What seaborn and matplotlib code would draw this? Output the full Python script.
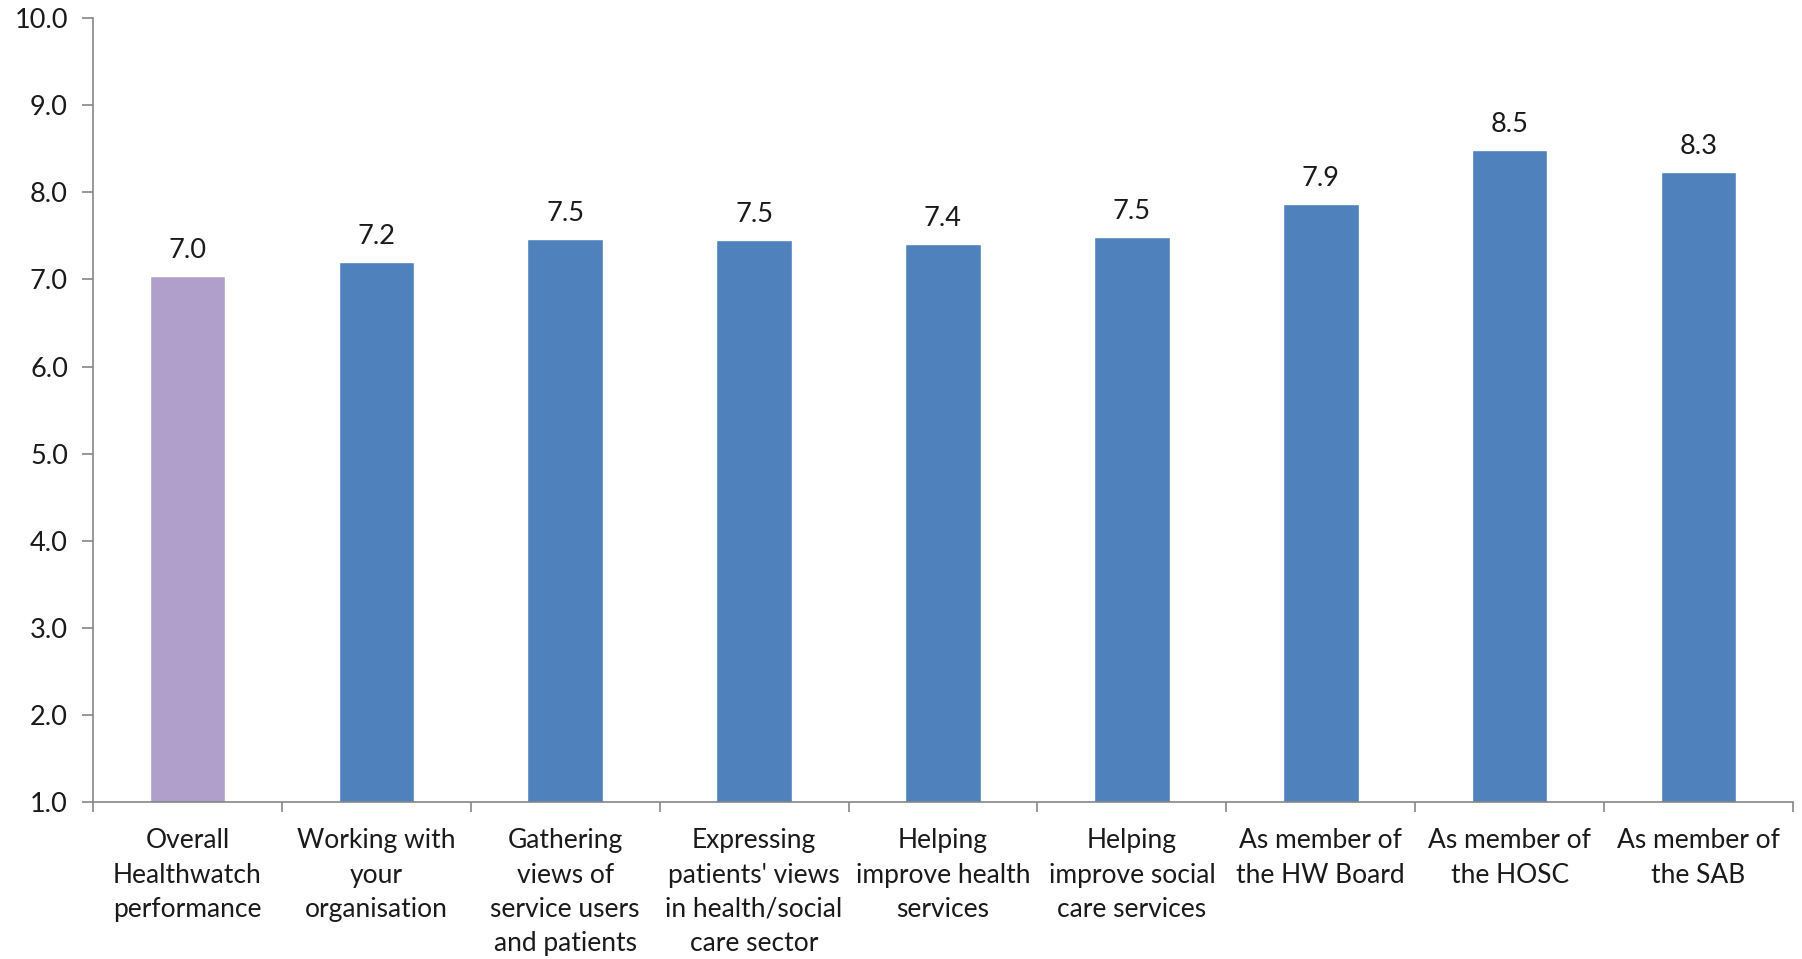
import numpy as np
import pandas as pd
import seaborn as sns
import matplotlib.pyplot as plt
from matplotlib.ticker import FixedLocator

# chart data
CATEGORIES = [
    "Overall\nHealthwatch\nperformance",
    "Working with\nyour\norganisation",
    "Gathering\nviews of\nservice users\nand patients",
    "Expressing\npatients' views\nin health/social\ncare sector",
    "Helping\nimprove health\nservices",
    "Helping\nimprove social\ncare services",
    "As member of\nthe HW Board",
    "As member of\nthe HOSC",
    "As member of\nthe SAB",
]
SCORES = [7.04, 7.20, 7.46, 7.45, 7.41, 7.49, 7.87, 8.49, 8.23]
SCORE_LABELS = ["7.0", "7.2", "7.5", "7.5", "7.4", "7.5", "7.9", "8.5", "8.3"]
COLOURS = ["#B09FCA"] + ["#4F81BD"] * 8
Y_TICKS = [1, 2, 3, 4, 5, 6, 7, 8, 9, 10]

sns.set_style("white")
plt.rcParams["font.family"] = ["Lato", "DejaVu Sans"]

df = pd.DataFrame({"category": CATEGORIES, "score": SCORES})

fig = plt.figure(figsize=(18.02, 9.59), dpi=100)
ax = fig.add_axes([0.0516, 0.1637, 0.9434, 0.8173])

sns.barplot(data=df, x="category", y="score", hue="category",
            palette=COLOURS, saturation=1, width=0.4, legend=False, ax=ax)

# bars start from the axis floor at 1.0
ax.set_ylim(1, 10)
ax.set_xlim(-0.5, len(CATEGORIES) - 0.5)

for i, (v, lab) in enumerate(zip(SCORES, SCORE_LABELS)):
    ax.text(i, v + 0.15, lab, ha="center", va="bottom", fontsize=19.5, color="#1a1a1a")

ax.set_yticks(Y_TICKS)
ax.set_yticklabels(["%.1f" % t for t in Y_TICKS], fontsize=19.5, color="#1a1a1a")
ax.set_xticks(range(len(CATEGORIES)))
ax.set_xticklabels(CATEGORIES, fontsize=19, color="#1a1a1a", linespacing=1.46)
ax.xaxis.set_minor_locator(FixedLocator(np.arange(-0.5, len(CATEGORIES), 1.0)))
ax.tick_params(axis="x", which="major", length=0, pad=19)
ax.tick_params(axis="x", which="minor", length=7, color="#868686", width=1.2, bottom=True)
ax.tick_params(axis="y", length=8, color="#868686", width=1.2, left=True, pad=10)

for side in ["top", "right"]:
    ax.spines[side].set_visible(False)
for side in ["left", "bottom"]:
    ax.spines[side].set_color("#868686")
    ax.spines[side].set_linewidth(1.2)

ax.set_xlabel("")
ax.set_ylabel("")

fig.savefig("out.png", dpi=100)
